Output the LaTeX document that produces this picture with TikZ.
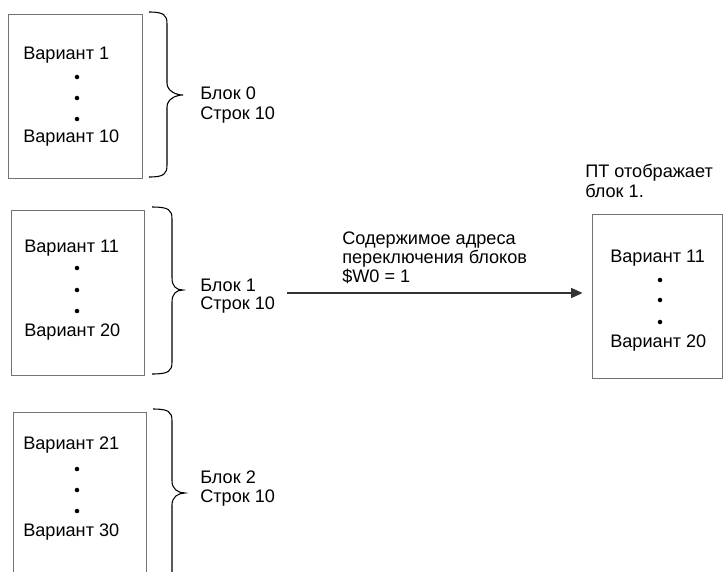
\documentclass[tikz,border=0pt]{standalone}
\usepackage{fontspec}
\setmainfont{Liberation Sans}
\usetikzlibrary{arrows.meta}
\newcommand{\mybrace}[6]{% x0 x1 x2 top bottom mid
  \draw[bracestyle] (#1,#4) .. controls (#2-3,#4) and (#2,#4+3) .. (#2,#4+12)
    -- (#2,#6-12) .. controls (#2,#6-4) and (#3-7,#6) .. (#3,#6)
    .. controls (#3-7,#6) and (#2,#6+4) .. (#2,#6+12)
    -- (#2,#5-12) .. controls (#2,#5-3) and (#2-3,#5) .. (#1,#5);}
\begin{document}
\begin{tikzpicture}[x=0.75pt,y=-0.75pt,
  lbl/.style={anchor=mid west,inner sep=0pt,font=\fontsize{13.6}{15}\selectfont},
  boxstyle/.style={draw=black!55,line width=0.7pt,inner sep=0pt},
  bracestyle/.style={draw=black,line width=0.8pt},
  dotstyle/.style={fill=black,circle,inner sep=0pt,minimum size=3.4pt},
  arr/.style={draw=black!80,line width=0.8pt,-{Triangle[length=8.5pt,width=7.5pt]}}]
\useasboundingbox (0,0) rectangle (723,571);
\clip (0,0) rectangle (723,571);
% boxes
\node[boxstyle,minimum width=100.5pt,minimum height=123pt] (b0) at (75,96) {};
\node[boxstyle,minimum width=99.75pt,minimum height=123.75pt] (b1) at (77.5,292.5) {};
\node[boxstyle,minimum width=99.75pt,minimum height=132pt] (b2) at (79.5,500) {};
\node[boxstyle,minimum width=97.5pt,minimum height=123pt] (rb) at (657,296) {};
% box 0 content
\node[lbl] (t01) at (23,56) {Вариант 1};
\node[dotstyle] (d01) at (77,77) {};
\node[dotstyle] (d02) at (77,98) {};
\node[dotstyle] (d03) at (77,119) {};
\node[lbl] (t02) at (23,139) {Вариант 10};
% box 1 content
\node[lbl] (t11) at (24,249) {Вариант 11};
\node[dotstyle] (d11) at (77,268) {};
\node[dotstyle] (d12) at (77,290) {};
\node[dotstyle] (d13) at (77,311) {};
\node[lbl] (t12) at (24,333) {Вариант 20};
% box 2 content
\node[lbl] (t21) at (23,446) {Вариант 21};
\node[dotstyle] (d21) at (77,469) {};
\node[dotstyle] (d22) at (77,490) {};
\node[dotstyle] (d23) at (77,511) {};
\node[lbl] (t22) at (23,533) {Вариант 30};
% right box content
\node[lbl] (r1) at (610,259) {Вариант 11};
\node[dotstyle] (rd1) at (660,280) {};
\node[dotstyle] (rd2) at (660,300) {};
\node[dotstyle] (rd3) at (660,322) {};
\node[lbl] (r2) at (610,344) {Вариант 20};
% braces
\mybrace{149}{167}{183}{12}{177}{95}
\mybrace{152}{172}{183}{207}{374}{290}
\mybrace{153}{172}{185}{409}{620}{493}
% brace labels
\node[lbl] (l0a) at (200,96) {Блок 0};
\node[lbl] (l0b) at (200,116) {Строк 10};
\node[lbl] (l1a) at (200,288) {Блок 1};
\node[lbl] (l1b) at (200,306) {Строк 10};
\node[lbl] (l2a) at (200,480) {Блок 2};
\node[lbl] (l2b) at (200,499) {Строк 10};
% arrow label
\node[lbl] (a1) at (342,241) {Содержимое адреса};
\node[lbl] (a2) at (342,260) {переключения блоков};
\node[lbl] (a3) at (342,279) {\$W0 = 1};
% PT label
\node[lbl] (p1) at (585,174) {ПТ отображает};
\node[lbl] (p2) at (585,194) {блок 1.};
% arrow
\coordinate (as) at (287,293);
\draw[arr,shorten >=6.75pt] (as) -- (as -| rb.west);
\end{tikzpicture}
\end{document}
